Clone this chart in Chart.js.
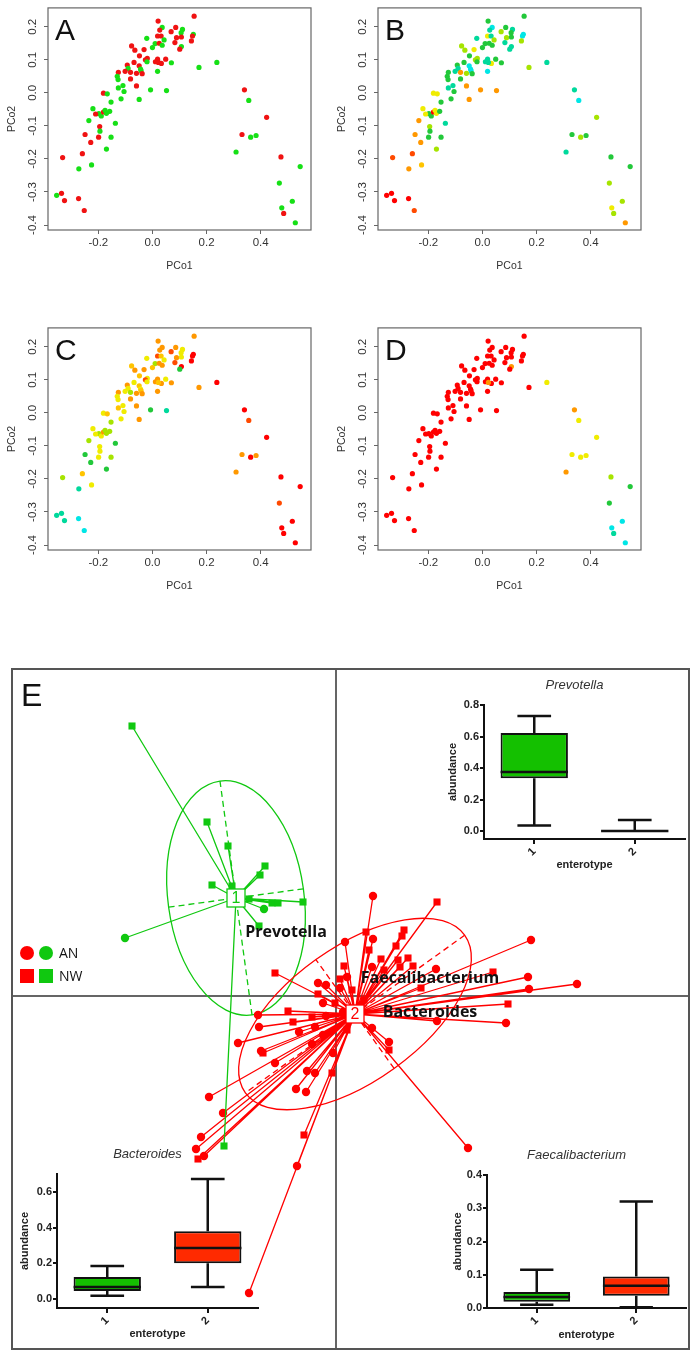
<!DOCTYPE html>
<html>
<head>
<meta charset="utf-8">
<script src="https://cdn.jsdelivr.net/npm/chart.js@4.4.1/dist/chart.umd.min.js"></script>
<style>
  body { margin: 0; background: #fff; width: 697px; height: 1355px; position: relative; overflow: hidden; }
  canvas { position: absolute; }
</style>
</head>
<body>
<canvas id="pA" width="345" height="300" style="left:0;top:0"></canvas>
<canvas id="pB" width="345" height="300" style="left:330px;top:0"></canvas>
<canvas id="pC" width="345" height="300" style="left:0;top:320px"></canvas>
<canvas id="pD" width="345" height="300" style="left:330px;top:320px"></canvas>
<canvas id="pE" width="697" height="715" style="left:0;top:640px"></canvas>
<canvas id="boxPrev" width="287" height="205" style="left:410px;top:670px"></canvas>
<canvas id="boxBact" width="290" height="210" style="left:0;top:1140px"></canvas>
<canvas id="boxFaec" width="287" height="210" style="left:410px;top:1140px"></canvas>
<script>
// ---- PCoA panels A-D: sample coordinates ----
const pcoX = [0.154,0.021,0.036,0.086,0.111,0.027,0.069,0.106,0.151,0.148,0.019,0.032,0.089,0.107,-0.021,0.043,0.144,0.083,0.01,0.025,
  0.107,0.036,-0.077,0,0.101,-0.031,-0.065,-0.048,0.049,-0.019,-0.026,0.019,-0.02,0.033,0.011,0.022,0.07,0.172,0.238,-0.068,
  -0.093,-0.09,-0.049,-0.044,-0.042,-0.126,-0.101,-0.081,-0.059,-0.038,0.019,-0.13,-0.127,-0.081,-0.109,-0.059,-0.126,-0.105,-0.007,0.052,
  -0.181,-0.167,-0.116,-0.049,-0.153,-0.22,-0.198,-0.21,-0.189,-0.181,-0.175,-0.17,-0.158,-0.235,-0.137,-0.195,-0.194,-0.249,-0.199,-0.153,
  -0.228,-0.17,-0.259,-0.332,-0.272,-0.225,-0.354,-0.336,-0.325,-0.273,-0.252,0.34,0.356,0.422,0.331,0.363,0.383,0.309,0.475,0.546,
  0.469,0.517,0.478,0.485,0.528];
const pcoY = [0.232,0.217,0.198,0.198,0.192,0.19,0.185,0.182,0.177,0.172,0.172,0.172,0.167,0.169,0.165,0.16,0.157,0.152,0.149,0.15,
  0.14,0.144,0.142,0.137,0.132,0.131,0.129,0.112,0.102,0.104,0.1,0.102,0.094,0.089,0.094,0.092,0.091,0.077,0.092,0.092,
  0.084,0.074,0.082,0.072,0.067,0.062,0.065,0.062,0.059,0.058,0.065,0.05,0.04,0.042,0.022,0.021,0.015,0.004,0.009,0.007,
  -0.001,-0.003,-0.018,-0.02,-0.028,-0.048,-0.063,-0.064,-0.07,-0.058,-0.053,-0.062,-0.056,-0.084,-0.092,-0.102,-0.116,-0.126,-0.134,-0.134,
  -0.15,-0.17,-0.184,-0.196,-0.23,-0.218,-0.31,-0.304,-0.326,-0.32,-0.356,0.009,-0.023,-0.074,-0.126,-0.134,-0.129,-0.179,-0.194,-0.223,
  -0.273,-0.328,-0.348,-0.365,-0.393];
const pcoXTicks = [-0.2, 0, 0.2, 0.4];
const pcoYTicks = [-0.4, -0.3, -0.2, -0.1, 0, 0.1, 0.2];

// A: two groups (0 red, 1 green)
const groupA = [0,0,1,0,1,0,0,1,1,0,0,0,0,0,1,1,0,0,1,0,
  1,1,0,1,0,0,0,0,0,0,0,0,1,0,0,0,1,1,1,0,
  0,1,0,1,1,0,0,0,0,0,1,1,1,0,1,0,1,1,1,1,
  0,1,1,1,1,1,1,0,1,0,1,1,1,1,1,0,1,0,0,1,
  0,1,0,0,1,1,1,0,0,0,0,0,1,0,0,1,1,1,0,1,
  1,1,1,0,1];
// B-D: colour level on a red -> cyan scale (0..8)
const levelB = [6,6,8,6,7,7,5,6,8,8,4,7,5,6,7,5,5,7,6,6,
  7,6,5,6,7,4,5,6,6,5,5,7,6,4,7,7,6,5,7,6,
  6,7,8,8,8,6,7,2,5,6,8,6,6,6,7,2,7,6,2,2,
  4,4,6,2,6,4,6,4,6,0,4,4,6,2,7,5,6,2,6,6,
  2,5,1,1,2,3,0,0,0,0,1,7,8,5,6,5,6,7,6,6,
  5,5,4,5,2];
const levelC = [2,2,2,2,4,2,1,4,0,0,1,3,2,4,4,4,0,1,5,2,
  0,2,3,3,6,2,2,3,4,4,1,2,4,2,2,3,2,2,0,4,
  2,4,3,4,3,2,4,5,2,2,2,4,4,2,4,2,3,4,6,7,
  4,3,4,2,5,4,5,4,4,2,5,5,5,5,6,4,4,6,4,5,
  6,6,3,5,7,4,7,7,7,8,8,0,1,0,2,0,2,2,0,0,
  1,0,0,0,0];
const levelD = [0,0,0,0,0,0,0,0,0,0,0,0,0,0,0,0,0,0,0,0,
  2,0,0,0,0,0,0,0,0,0,0,0,0,0,0,2,0,0,4,0,
  0,0,0,0,0,0,0,0,0,0,0,0,0,0,0,0,0,0,0,0,
  0,0,0,0,0,0,0,0,0,0,0,0,0,0,0,0,0,0,0,0,
  0,0,0,0,0,0,0,0,0,0,0,2,4,4,4,4,4,2,5,6,
  6,8,8,7,8];

const groupPalette = ['#f01212', '#16e016'];
const levelPalette = ['#ff0000', '#ff4a00', '#ff9800', '#ffc400', '#f0ec00', '#a6e400', '#22c83a', '#00d99c', '#00e6e6'];

const pcoFrame = {
  id: 'pcoFrame',
  afterDraw(chart, args, opts) {
    const {ctx, chartArea: a} = chart;
    ctx.save();
    ctx.strokeStyle = '#666';
    ctx.lineWidth = 1.2;
    ctx.strokeRect(a.left, a.top, a.right - a.left, a.bottom - a.top);
    ctx.fillStyle = '#111';
    ctx.font = '30px "Liberation Sans", Arial, sans-serif';
    ctx.textBaseline = 'alphabetic';
    ctx.fillText(opts.letter, a.left + 7, a.top + 32);
    ctx.restore();
  }
};

function pcoPanel(id, letter, colors) {
  new Chart(id, {
    type: 'scatter',
    data: {
      datasets: [{
        data: pcoX.map((x, i) => ({x: x, y: pcoY[i]})),
        backgroundColor: colors,
        borderWidth: 0,
        pointRadius: 2.6
      }]
    },
    options: {
      responsive: false,
      animation: false,
      layout: {padding: {top: 5, right: 34, left: 0, bottom: 0}},
      plugins: {legend: {display: false}, tooltip: {enabled: false}, pcoFrame: {letter: letter}},
      scales: {
        x: {
          min: -0.386, max: 0.586,
          afterBuildTicks: s => { s.ticks = pcoXTicks.map(v => ({value: v})); },
          afterFit: s => { s.height = 70; },
          border: {display: false},
          grid: {display: true, drawOnChartArea: false, drawTicks: true, tickLength: 4, color: '#666'},
          ticks: {autoSkip: false, maxRotation: 0, font: {family: 'Liberation Sans', size: 11.5}, color: '#333', padding: 2,
                  callback: v => v.toFixed(1)},
          title: {display: true, text: 'PCo1', font: {family: 'Liberation Sans', size: 10.5}, color: '#333', padding: {bottom: 28}}
        },
        y: {
          min: -0.415, max: 0.257,
          afterBuildTicks: s => { s.ticks = pcoYTicks.map(v => ({value: v})); },
          afterFit: s => { s.width = 48; },
          border: {display: false},
          grid: {display: true, drawOnChartArea: false, drawTicks: true, tickLength: 4, color: '#666'},
          ticks: {autoSkip: false, minRotation: 90, maxRotation: 90, crossAlign: 'center', padding: 1,
                  font: {family: 'Liberation Sans', size: 11.5}, color: '#333', callback: v => v.toFixed(1)},
          title: {display: true, text: 'PCo2', font: {family: 'Liberation Sans', size: 10.5}, color: '#333', padding: {top: 6}}
        }
      }
    },
    plugins: [pcoFrame]
  });
}

pcoPanel('pA', 'A', groupA.map(g => groupPalette[g]));
pcoPanel('pB', 'B', levelB.map(l => levelPalette[l]));
pcoPanel('pC', 'C', levelC.map(l => levelPalette[l]));
pcoPanel('pD', 'D', levelD.map(l => levelPalette[l]));

// ---- Panel E: between-class plot ----
const clusterNames = ['1', '2'];
const clusterX = [-1.00, 0.19];
const clusterY = [0.98, -0.18];
const clusterColor = ['#10c810', '#ff0000'];
const ellA = [1.18, 1.35];
const ellB = [0.68, 0.67];
const ellAngle = [97.8, 35.7];

const e1AnX = [-0.72, -2.11];
const e1AnY = [0.87, 0.58];
const e1NwX = [-2.04, -1.29, -1.08, -0.71, -0.76, -1.24, -1.04, -0.87, -0.64, -0.58, -0.33, -0.77, -1.12];
const e1NwY = [2.70, 1.74, 1.50, 1.30, 1.21, 1.11, 1.10, 0.97, 0.93, 0.93, 0.94, 0.70, -1.50];

const e2AnX = [0.37, 0.09, 0.37, 0.36, 1.00, 1.95, 1.92, 1.93, 2.41, 1.70, 1.01, 0.53, 0.11, -0.18, -0.10, -0.13, 0.04,
  -0.78, -0.77, -0.10, -0.21, -0.37, -0.98, -0.75, -0.61, -0.24, -0.13, -0.29, -0.21, -0.03, -0.40, -0.30,
  -1.27, -1.13, -1.35, -1.40, -1.32, -0.39, -0.87, 1.32, 0.07, 0.36];
const e2AnY = [1.00, 0.54, 0.57, 0.29, 0.27, 0.56, 0.19, 0.07, 0.12, -0.27, -0.25, -0.46, 0.19, 0.13, 0.11, -0.07, 0.08,
  -0.19, -0.31, -0.20, -0.31, -0.36, -0.47, -0.55, -0.67, -0.48, -0.39, -0.75, -0.77, -0.57, -0.93, -0.96,
  -1.01, -1.17, -1.41, -1.53, -1.60, -1.70, -2.97, -1.52, -0.16, -0.32];
const e2NwX = [1.01, 0.30, 0.68, 0.66, 0.60, 0.33, 0.45, 0.62, 0.72, 0.08, 0.48, 0.64, 0.77, 1.57, 1.72, 0.53, 0.04, 0.85,
  -0.61, -0.18, -0.48, -0.43, -0.24, -0.73, -0.04, -1.38, -0.32, 0.16, -0.01, 0.28, 0.11];
const e2NwY = [0.94, 0.64, 0.66, 0.60, 0.50, 0.46, 0.37, 0.36, 0.38, 0.30, 0.26, 0.29, 0.30, 0.24, -0.08, -0.54, 0.17, 0.08,
  0.23, 0.02, -0.15, -0.26, -0.21, -0.57, -0.77, -1.63, -1.39, 0.06, -0.07, -0.04, -0.34];

const genusNames = ['Prevotella', 'Faecalibacterium', 'Bacteroides'];
const genusX = [-0.50, 0.94, 0.94];
const genusY = [0.64, 0.18, -0.16];

function pts(xs, ys) { return xs.map((x, i) => ({x: x, y: ys[i]})); }
function spider(k, xs, ys) {
  const out = [];
  xs.forEach((x, i) => {
    out.push({x: clusterX[k], y: clusterY[k]}, {x: x, y: ys[i]}, {x: null, y: null});
  });
  return out;
}

const eDecor = {
  id: 'eDecor',
  beforeDatasetsDraw(chart) {
    const {ctx, chartArea: a, scales: {x, y}} = chart;
    ctx.save();
    ctx.strokeStyle = '#333';
    ctx.lineWidth = 1.5;
    ctx.beginPath();
    ctx.moveTo(x.getPixelForValue(0), a.top);
    ctx.lineTo(x.getPixelForValue(0), a.bottom);
    ctx.moveTo(a.left, y.getPixelForValue(0));
    ctx.lineTo(a.right, y.getPixelForValue(0));
    ctx.stroke();
    for (let k = 0; k < 2; k++) {
      const cx = x.getPixelForValue(clusterX[k]), cy = y.getPixelForValue(clusterY[k]);
      const rx = x.getPixelForValue(ellA[k]) - x.getPixelForValue(0);
      const ry = y.getPixelForValue(0) - y.getPixelForValue(ellB[k]);
      const th = -ellAngle[k] * Math.PI / 180;
      ctx.strokeStyle = clusterColor[k];
      ctx.lineWidth = 1.3;
      ctx.beginPath();
      ctx.ellipse(cx, cy, rx, ry, th, 0, 2 * Math.PI);
      ctx.stroke();
      ctx.setLineDash([6, 4]);
      ctx.beginPath();
      ctx.moveTo(cx + rx * Math.cos(th), cy + rx * Math.sin(th));
      ctx.lineTo(cx - rx * Math.cos(th), cy - rx * Math.sin(th));
      ctx.moveTo(cx - ry * Math.sin(th), cy + ry * Math.cos(th));
      ctx.lineTo(cx + ry * Math.sin(th), cy - ry * Math.cos(th));
      ctx.stroke();
      ctx.setLineDash([]);
    }
    ctx.restore();
  },
  afterDatasetsDraw(chart) {
    const {ctx, chartArea: a, scales: {x, y}} = chart;
    ctx.save();
    // centroid labels
    ctx.font = '16px "Liberation Sans", Arial, sans-serif';
    ctx.textAlign = 'center';
    ctx.textBaseline = 'middle';
    for (let k = 0; k < 2; k++) {
      const cx = x.getPixelForValue(clusterX[k]), cy = y.getPixelForValue(clusterY[k]);
      ctx.fillStyle = '#fff';
      ctx.fillRect(cx - 9, cy - 9, 18, 18);
      ctx.strokeStyle = clusterColor[k];
      ctx.lineWidth = 1.3;
      ctx.strokeRect(cx - 9, cy - 9, 18, 18);
      ctx.fillStyle = clusterColor[k];
      ctx.fillText(clusterNames[k], cx, cy + 1);
    }
    // genus labels
    ctx.font = 'bold 16px "Open Sans", sans-serif';
    ctx.fillStyle = '#111';
    genusNames.forEach((g, i) => ctx.fillText(g, x.getPixelForValue(genusX[i]), y.getPixelForValue(genusY[i])));
    // legend
    const lx = a.left + 15, ly = 313;
    [ '#ff0000', '#10c810' ].forEach((c, i) => {
      ctx.fillStyle = c;
      ctx.beginPath();
      ctx.arc(lx + i * 19, ly, 7, 0, 2 * Math.PI);
      ctx.fill();
      ctx.fillRect(lx + i * 19 - 7, ly + 16, 14, 14);
    });
    ctx.fillStyle = '#111';
    ctx.font = '14px "Open Sans", sans-serif';
    ctx.textAlign = 'left';
    ctx.fillText('AN', lx + 32, ly + 1);
    ctx.fillText('NW', lx + 32, ly + 24);
    // letter and frame
    ctx.font = '32px "Liberation Sans", Arial, sans-serif';
    ctx.textBaseline = 'alphabetic';
    ctx.fillText('E', a.left + 9, a.top + 37);
    ctx.strokeStyle = '#555';
    ctx.lineWidth = 2;
    ctx.strokeRect(a.left, a.top, a.right - a.left, a.bottom - a.top);
    ctx.restore();
  }
};

new Chart('pE', {
  type: 'scatter',
  data: {
    datasets: [
      {data: pts(e1AnX, e1AnY), pointStyle: 'circle', pointRadius: 4.2, backgroundColor: clusterColor[0], borderWidth: 0},
      {data: pts(e1NwX, e1NwY), pointStyle: 'rect', pointRadius: 5, backgroundColor: clusterColor[0], borderWidth: 0},
      {data: spider(0, e1AnX.concat(e1NwX), e1AnY.concat(e1NwY)), showLine: true, spanGaps: false, pointRadius: 0,
       borderColor: clusterColor[0], borderWidth: 1.3},
      {data: pts(e2AnX, e2AnY), pointStyle: 'circle', pointRadius: 4.2, backgroundColor: clusterColor[1], borderWidth: 0},
      {data: pts(e2NwX, e2NwY), pointStyle: 'rect', pointRadius: 5, backgroundColor: clusterColor[1], borderWidth: 0},
      {data: spider(1, e2AnX.concat(e2NwX), e2AnY.concat(e2NwY)), showLine: true, spanGaps: false, pointRadius: 0,
       borderColor: clusterColor[1], borderWidth: 1.3}
    ]
  },
  options: {
    responsive: false,
    animation: false,
    layout: {padding: {left: 12, right: 8, top: 29, bottom: 6}},
    plugins: {legend: {display: false}, tooltip: {enabled: false}},
    scales: {
      x: {type: 'linear', min: -3.24, max: 3.53, display: false},
      y: {type: 'linear', min: -3.53, max: 3.27, display: false}
    }
  },
  plugins: [eDecor]
});

// ---- Boxplot insets ----
const enterotypes = ['1', '2'];
const boxColors = ['#14c000', '#ff2a00'];
const prevLow = [0.035, 0], prevQ1 = [0.335, 0], prevMed = [0.375, 0], prevQ3 = [0.622, 0], prevHigh = [0.73, 0.07];
const bactLow = [0.018, 0.067], bactQ1 = [0.045, 0.2], bactMed = [0.067, 0.286], bactQ3 = [0.123, 0.38], bactHigh = [0.185, 0.672];
const faecLow = [0.01, 0.002], faecQ1 = [0.019, 0.037], faecMed = [0.033, 0.067], faecQ3 = [0.048, 0.095], faecHigh = [0.115, 0.32];

const whiskers = {
  id: 'whiskers',
  afterDatasetsDraw(chart, args, o) {
    const {ctx, chartArea: a, scales: {y}} = chart;
    const bars = chart.getDatasetMeta(0).data;
    ctx.save();
    ctx.strokeStyle = '#111';
    ctx.lineWidth = 2.5;
    bars.forEach((b, i) => {
      const w = b.width, cx = b.x;
      const py = v => y.getPixelForValue(v);
      ctx.beginPath();
      ctx.moveTo(cx, py(o.high[i])); ctx.lineTo(cx, py(o.q3[i]));
      ctx.moveTo(cx, py(o.q1[i])); ctx.lineTo(cx, py(o.low[i]));
      ctx.moveTo(cx - w / 4, py(o.high[i])); ctx.lineTo(cx + w / 4, py(o.high[i]));
      ctx.moveTo(cx - w / 4, py(o.low[i])); ctx.lineTo(cx + w / 4, py(o.low[i]));
      ctx.moveTo(cx - w / 2, py(o.med[i])); ctx.lineTo(cx + w / 2, py(o.med[i]));
      ctx.stroke();
    });
    ctx.fillStyle = '#333';
    ctx.font = 'italic 13px "Liberation Sans", Arial, sans-serif';
    ctx.textAlign = 'center';
    ctx.textBaseline = 'middle';
    ctx.fillText(o.title, (a.left + a.right) / 2 - 10, a.top - 20);
    ctx.restore();
  }
};

function boxPanel(id, title, low, q1, med, q3, high, yMin, yMax, yTicks, pad, yWidth, xHeight, yTitlePad, xTitlePad) {
  const bold = {family: 'Liberation Sans', size: 11, weight: 'bold'};
  new Chart(id, {
    type: 'bar',
    data: {
      labels: enterotypes,
      datasets: [{
        data: q1.map((v, i) => [v, q3[i]]),
        backgroundColor: boxColors,
        borderColor: '#111',
        borderWidth: 2,
        borderSkipped: false,
        barPercentage: 0.67,
        categoryPercentage: 1
      }]
    },
    options: {
      responsive: false,
      animation: false,
      layout: {padding: pad},
      plugins: {legend: {display: false}, tooltip: {enabled: false},
                whiskers: {title: title, low: low, q1: q1, med: med, q3: q3, high: high}},
      scales: {
        x: {
          afterFit: s => { s.height = xHeight; },
          border: {display: true, color: '#111', width: 2},
          grid: {display: true, offset: false, drawOnChartArea: false, tickLength: 5, color: '#111', lineWidth: 2},
          ticks: {minRotation: 45, maxRotation: 45, font: bold, color: '#222', padding: 1},
          title: {display: true, text: 'enterotype', font: bold, color: '#222', padding: {bottom: xTitlePad}}
        },
        y: {
          min: yMin, max: yMax,
          afterBuildTicks: s => { s.ticks = yTicks.map(v => ({value: v})); },
          afterFit: s => { s.width = yWidth; },
          border: {display: true, color: '#111', width: 2},
          grid: {display: true, drawOnChartArea: false, tickLength: 4, color: '#111', lineWidth: 2},
          ticks: {font: bold, color: '#222', padding: 1, callback: v => v.toFixed(1)},
          title: {display: true, text: 'abundance', font: bold, color: '#222', padding: {top: yTitlePad}}
        }
      }
    },
    plugins: [whiskers]
  });
}

boxPanel('boxPrev', 'Prevotella', prevLow, prevQ1, prevMed, prevQ3, prevHigh, -0.05, 0.8, [0, 0.2, 0.4, 0.6, 0.8],
  {top: 35, right: 12, left: 0, bottom: 0}, 74, 36, 36, 3);
boxPanel('boxBact', 'Bacteroides', bactLow, bactQ1, bactMed, bactQ3, bactHigh, -0.05, 0.70, [0, 0.2, 0.4, 0.6],
  {top: 34, right: 32, left: 0, bottom: 0}, 57, 42, 18, 9);
boxPanel('boxFaec', 'Faecalibacterium', faecLow, faecQ1, faecMed, faecQ3, faecHigh, 0, 0.4, [0, 0.1, 0.2, 0.3, 0.4],
  {top: 35, right: 11, left: 0, bottom: 0}, 77, 42, 41, 8);
</script>
</body>
</html>
